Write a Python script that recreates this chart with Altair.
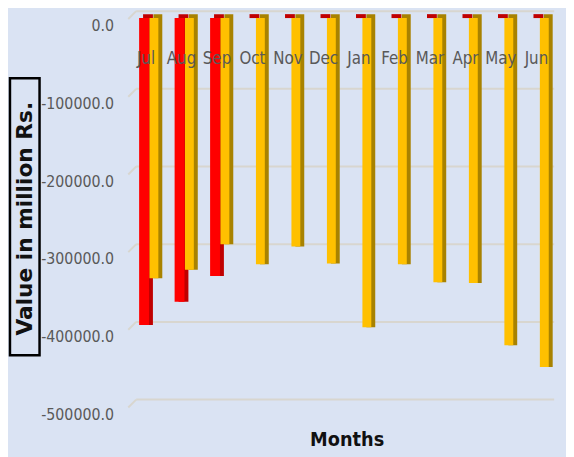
import altair as alt
import pandas as pd

months = ["Jul", "Aug", "Sep", "Oct", "Nov", "Dec", "Jan", "Feb", "Mar", "Apr", "May", "Jun"]
red_values = [-395000, -365000, -332000, 0, 0, 0, 0, 0, 0, 0, 0, 0]
gold_values = [-335000, -324000, -291000, -317000, -294000, -316000,
               -398000, -317000, -340000, -341000, -421000, -449000]
y_ticks = [0, -100000, -200000, -300000, -400000, -500000]

red_df = pd.DataFrame({"Month": months, "Value": red_values})
gold_df = pd.DataFrame({"Month": months, "Value": gold_values})
grid_df = pd.DataFrame({"Value": y_ticks})

W, H = 432, 394
NARROW = "DejaVu Sans Condensed, DejaVu Sans"

x_scale = alt.Scale(domain=months, paddingInner=0, paddingOuter=0)
y_scale = alt.Scale(domain=[-500000, 0], nice=False)

x_axis = alt.Axis(orient="top", offset=-53, domain=False, ticks=False, zindex=1,
                  labelPadding=0, labelBaseline="alphabetic", labelAngle=0,
                  labelFont=NARROW, labelFontSize=17, labelColor="#595959",
                  title=None, grid=False)
y_axis = alt.Axis(values=y_ticks, grid=False, domain=False, ticks=False,
                  labelExpr="(datum.value < 0 ? '-' : '') + format(abs(datum.value), '.1f')",
                  labelPadding=15, labelOffset=15, labelFont=NARROW, labelFontSize=16,
                  labelColor="#595959",
                  title="Value in million Rs.", titleFont="DejaVu Sans",
                  titleFontWeight="bold", titleFontSize=22, titleColor="#111111",
                  titleAngle=270, titleX=-105, titleY=210, titleAlign="center",
                  titleBaseline="middle")

x_enc = alt.X("Month:N", scale=x_scale, sort=months, axis=x_axis)
y_enc = alt.Y("Value:Q", scale=y_scale, axis=y_axis)

grid_h = alt.Chart(grid_df).mark_rule(color="#d8d6cf", strokeWidth=2).encode(
    x=alt.value(8), x2=alt.value(W), y=y_enc,
)
grid_d = alt.Chart(grid_df).mark_rule(color="#d8d6cf", strokeWidth=2, yOffset=8, y2Offset=0).encode(
    x=alt.value(0), x2=alt.value(8), y=y_enc, y2=alt.Y2("Value:Q"),
)

box = alt.Chart(grid_df.head(1)).mark_rect(fill=None, stroke="black", strokeWidth=2.5).encode(
    x=alt.value(-120), x2=alt.value(-90), y=alt.value(68), y2=alt.value(349)
)

red_depth = alt.Chart(red_df).mark_bar(width=10, xOffset=2, yOffset=7, y2Offset=3,
                                       color="#c00000").encode(x=x_enc, y=y_enc, y2=alt.datum(0))
red_front = alt.Chart(red_df).mark_bar(width=10, xOffset=-2, yOffset=7, y2Offset=7,
                                       color="#ff0000").encode(x=x_enc, y=y_enc, y2=alt.datum(0))
gold_depth = alt.Chart(gold_df).mark_bar(width=9, xOffset=12, yOffset=7, y2Offset=3,
                                         color="#a88200").encode(x=x_enc, y=y_enc, y2=alt.datum(0))
gold_front = alt.Chart(gold_df).mark_bar(width=9, xOffset=8, yOffset=7, y2Offset=7,
                                         color="#ffc000").encode(x=x_enc, y=y_enc, y2=alt.datum(0))

chart = alt.layer(grid_h, grid_d, box, red_depth, red_front, gold_depth, gold_front).properties(
    width=W, height=H,
    autosize=alt.AutoSizeParams(type="none"),
    padding={"left": 122, "top": 0, "right": 12, "bottom": 55},
    background="#dae3f3",
    title=alt.TitleParams("Months", orient="bottom", anchor="middle", frame="group",
                          offset=8, dx=6, baseline="top", font=NARROW, fontSize=20,
                          fontWeight="bold", color="#111111"),
).configure_view(stroke=None)

chart.save("out.html", embed_options={"renderer": "svg", "actions": False})
